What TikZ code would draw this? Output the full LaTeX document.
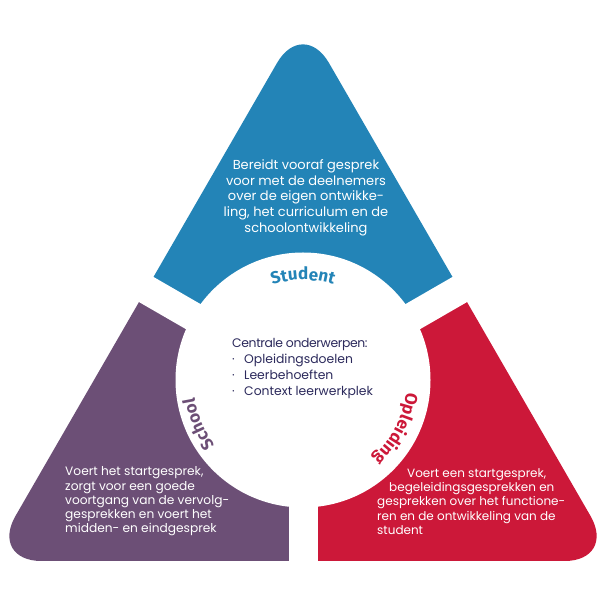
\documentclass[tikz,border=0pt]{standalone}
\usepackage{fontspec}
\setmainfont{Poppins}
\newfontfamily\labelfont{Fira Sans}
\usetikzlibrary{calc,decorations.text}
\definecolor{cblue}{HTML}{2384B7}
\definecolor{cpurple}{HTML}{6C4F76}
\definecolor{cred}{HTML}{CC1839}
\definecolor{cnavy}{HTML}{2C2A5C}
\begin{document}
\begin{tikzpicture}[x=1pt,y=1pt,
  bodyp/.style={inner sep=0pt, text=white, font=\fontsize{12.2}{14.3}\selectfont},
  bodyr/.style={inner sep=0pt, text=white, font=\fontsize{12}{14.3}\selectfont},
  bodyb/.style={inner sep=0pt, text=white, font=\fontsize{13}{15.6}\selectfont},
  ctext/.style={inner sep=0pt, text=cnavy, font=\fontsize{12.4}{16.3}\selectfont},
  lbl/.style={decorate, decoration={text along path, text align=center, text color=#1}},
  tri/.style={rounded corners=52pt},
  gap/.style={white, line width=29pt}]
\useasboundingbox[fill=white] (0,0) rectangle (600,600);
\coordinate (C) at (303,220);
\coordinate (A) at (303,582);
\coordinate (L) at (-10.5,39);
\coordinate (R) at (616.5,39);
\coordinate (M) at (303,39);
% sectors
\begin{scope}
  \clip (C) -- ($(C)+(30:900pt)$) -- ($(C)+(90:900pt)$) -- ($(C)+(150:900pt)$) -- cycle;
  \fill[cblue, tri] (M) -- (R) -- (A) -- (L) -- cycle;
\end{scope}
\begin{scope}
  \clip (C) -- ($(C)+(150:900pt)$) -- ($(C)+(210:900pt)$) -- ($(C)+(270:900pt)$) -- cycle;
  \fill[cpurple, tri] (M) -- (R) -- (A) -- (L) -- cycle;
\end{scope}
\begin{scope}
  \clip (C) -- ($(C)+(270:900pt)$) -- ($(C)+(330:900pt)$) -- ($(C)+(30:900pt)$) -- cycle;
  \fill[cred, tri] (M) -- (R) -- (A) -- (L) -- cycle;
\end{scope}
% centre disc and gaps
\fill[white] (C) circle[radius=127.5pt];
\draw[gap] (C) -- ($(C)+(30:500pt)$);
\draw[gap] (C) -- ($(C)+(150:500pt)$);
\draw[gap] (C) -- ($(C)+(270:500pt)$);
% curved labels
\path[lbl=cblue, decoration={text={|\labelfont\bfseries\fontsize{17}{17}\selectfont|Student}}]
  ($(C)+(150:100pt)$) arc[start angle=150, end angle=30, radius=100pt];
\path[lbl=cpurple, decoration={text={|\labelfont\bfseries\fontsize{17}{17}\selectfont|School}}]
  ($(C)+(263:110pt)$) arc[start angle=263, end angle=143, radius=110pt];
\path[lbl=cred, decoration={text={|\labelfont\bfseries\fontsize{17}{17}\selectfont|Opleiding}}]
  ($(C)+(392.5:104pt)$) arc[start angle=392.5, end angle=272.5, radius=104pt];
% texts
\node[bodyb, align=center] (tstudent) at (306,402)
  {Bereidt vooraf gesprek\\voor met de deelnemers\\over de eigen ontwikke-\\ling, het curriculum en de\\[1pt]schoolontwikkeling};
\node[bodyp, align=left, anchor=west] (tschool) at (65,98.5)
  {Voert het startgesprek,\\zorgt voor een goede\\voortgang van de vervolg-\\gesprekken en voert het\\midden- en eindgesprek};
\node[bodyr, align=left, anchor=west] (topleiding) at (377,98.5)
  {\hspace*{30pt}Voert een startgesprek,\\\hspace*{12pt}begeleidingsgesprekken en\\gesprekken over het functione-\\ren en de ontwikkeling van de\\student};
\node[ctext, align=left, anchor=west] (tcentre) at (232,231.5)
  {{\addfontfeatures{LetterSpace=-3}Centrale onderwerpen:}\\\makebox[12pt][l]{·}Opleidingsdoelen\\\makebox[12pt][l]{·}Leerbehoeften\\\makebox[12pt][l]{·}Context leerwerkplek};
\end{tikzpicture}
\end{document}
